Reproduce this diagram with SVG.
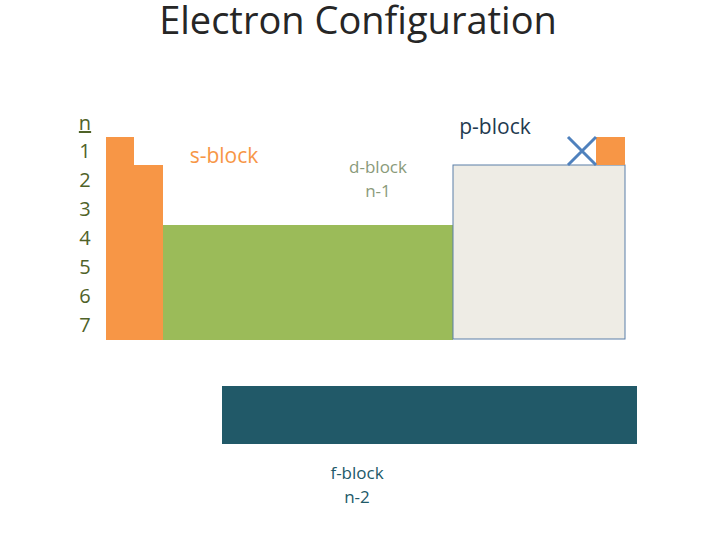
<svg xmlns="http://www.w3.org/2000/svg" width="720" height="540" viewBox="0 0 720 540">
<style>
text{font-family:"Open Sans","Liberation Sans",sans-serif}
.n{font-size:20px;fill:#4F6228;text-anchor:middle}
.lbl{font-size:17px;text-anchor:middle}
.big{font-size:21px;text-anchor:middle}
</style>
<rect width="720" height="540" fill="#fff"/>
<text x="358" y="34" font-size="38" fill="#262626" text-anchor="middle">Electron Configuration</text>
<g id="n-labels">
<text class="n" x="85" y="130" text-decoration="underline">n</text>
<text class="n" x="85" y="158">1</text>
<text class="n" x="85" y="187">2</text>
<text class="n" x="85" y="216">3</text>
<text class="n" x="85" y="245">4</text>
<text class="n" x="85" y="274">5</text>
<text class="n" x="85" y="303">6</text>
<text class="n" x="85" y="332">7</text>
</g>
<g id="s-block">
<path d="M106 137H134V165H163V340H106Z" fill="#F79646"/>
<text class="big" x="224" y="163" fill="#F79646">s-block</text>
</g>
<g id="d-block">
<rect x="163" y="225" width="290" height="115" fill="#9BBB59"/>
<text class="lbl" x="378" y="173" fill="#8A9A7A">d-block</text>
<text class="lbl" x="378" y="197" fill="#8A9A7A">n-1</text>
</g>
<g id="p-block">
<rect x="453" y="165" width="172" height="174" fill="#EEECE5" stroke="#5A7FA8" stroke-width="1"/>
<rect x="596" y="137" width="29" height="28" fill="#F79646"/>
<path d="M568 137L596 165M596 137L568 165" stroke="#4F81BD" stroke-width="3"/>
<text class="big" x="495" y="134" fill="#1F3A4F">p-block</text>
</g>
<g id="f-block">
<rect x="222" y="386" width="415" height="58" fill="#215968"/>
<text class="lbl" x="357" y="479" fill="#215968">f-block</text>
<text class="lbl" x="357" y="503" fill="#215968">n-2</text>
</g>
</svg>
